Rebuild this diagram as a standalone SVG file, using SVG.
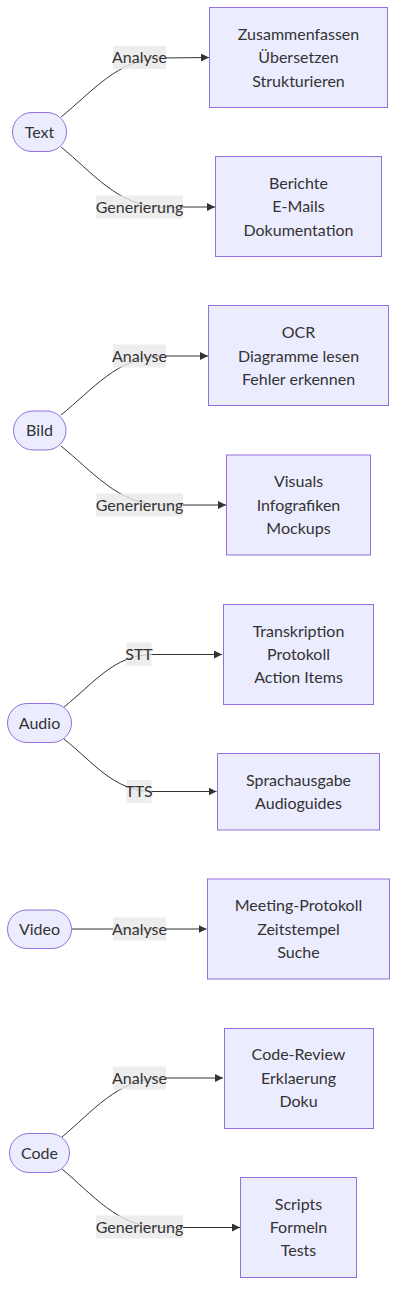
<svg xmlns="http://www.w3.org/2000/svg" width="406" height="1310" viewBox="0 0 406 1310">
<defs>
<style>
.node rect{fill:#ECECFF;stroke:#9370DB;stroke-width:1px}
text{font-family:Lato,"Liberation Sans",sans-serif;font-size:16px;fill:#333;text-anchor:middle;dominant-baseline:central;transform:translateY(-1px)}
.lbl rect{fill:#e8e8e8;fill-opacity:0.8;stroke:none}
.edge{fill:none;stroke:#333;stroke-width:1px;marker-end:url(#arr)}
</style>
<marker id="arr" viewBox="0 0 10 10" refX="10" refY="5" markerWidth="8" markerHeight="8" markerUnits="userSpaceOnUse" orient="auto">
<path d="M0,0 L10,5 L0,10 z" fill="#333"/>
</marker>
</defs>
<rect width="406" height="1310" fill="#fff"/>
<g id="connectors">
<path class="edge" d="M61,117 C92,92 118,59 160,58 L209,57.5"/>
<path class="edge" d="M61,147 C92,172 118,206 160,207 L215,207"/>
<path class="edge" d="M61,415 C92,390 118,357 160,356 L208,356"/>
<path class="edge" d="M61,446 C92,471 118,504 160,505 L226,505"/>
<path class="edge" d="M64,707 C94,683 114,655 152,654.5 L222,654.5"/>
<path class="edge" d="M64,739 C94,763 114,791 152,791.5 L216.5,791.5"/>
<path class="edge" d="M72,929 L206.5,929"/>
<path class="edge" d="M62,1137 C92,1112 118,1079 160,1078 L223,1078"/>
<path class="edge" d="M62,1169 C92,1194 118,1227 160,1227.5 L240,1227.5"/>
</g>
<g id="edge-labels">
<g class="lbl"><rect x="113" y="46" width="53" height="23"/><text x="139.5" y="57.5">Analyse</text></g>
<g class="lbl"><rect x="96" y="195.5" width="87" height="23"/><text x="139.5" y="207">Generierung</text></g>
<g class="lbl"><rect x="113" y="344.5" width="53" height="23"/><text x="139.5" y="356">Analyse</text></g>
<g class="lbl"><rect x="96" y="493.5" width="87" height="23"/><text x="139.5" y="505">Generierung</text></g>
<g class="lbl"><rect x="126.5" y="642.5" width="25" height="23"/><text x="139" y="654">STT</text></g>
<g class="lbl"><rect x="126.5" y="780" width="25" height="23"/><text x="139" y="791.5">TTS</text></g>
<g class="lbl"><rect x="113" y="917.5" width="53" height="23"/><text x="139.5" y="929">Analyse</text></g>
<g class="lbl"><rect x="113" y="1066.5" width="53" height="23"/><text x="139.5" y="1078">Analyse</text></g>
<g class="lbl"><rect x="96" y="1215.5" width="87" height="23"/><text x="139.5" y="1227">Generierung</text></g>
</g>
<g id="text" class="node"><rect x="12.5" y="112.5" width="54" height="39" rx="19.5" ry="19.5"/><text x="39.5" y="132">Text</text></g>
<g id="text-analyse" class="node"><rect x="209.5" y="7.5" width="178" height="100"/><text x="298.5" y="34">Zusammenfassen</text><text x="298.5" y="57.5">Übersetzen</text><text x="298.5" y="81">Strukturieren</text></g>
<g id="text-gen" class="node"><rect x="215.5" y="156.5" width="166" height="100"/><text x="298.5" y="183">Berichte</text><text x="298.5" y="206.5">E-Mails</text><text x="298.5" y="230">Dokumentation</text></g>
<g id="bild" class="node"><rect x="13.5" y="411" width="52.5" height="39" rx="19.5" ry="19.5"/><text x="39.5" y="430.5">Bild</text></g>
<g id="bild-analyse" class="node"><rect x="208.5" y="305.5" width="180" height="100"/><text x="298.5" y="332.5">OCR</text><text x="298.5" y="356">Diagramme lesen</text><text x="298.5" y="379.5">Fehler erkennen</text></g>
<g id="bild-gen" class="node"><rect x="226.5" y="455" width="144" height="100"/><text x="298.5" y="481.5">Visuals</text><text x="298.5" y="505">Infografiken</text><text x="298.5" y="528.5">Mockups</text></g>
<g id="audio" class="node"><rect x="7.5" y="703.5" width="64" height="39" rx="19.5" ry="19.5"/><text x="39.5" y="723">Audio</text></g>
<g id="audio-stt" class="node"><rect x="223.5" y="604.5" width="150" height="100"/><text x="298.5" y="631">Transkription</text><text x="298.5" y="654">Protokoll</text><text x="298.5" y="677.5">Action Items</text></g>
<g id="audio-tts" class="node"><rect x="217.5" y="753.5" width="162" height="76.5"/><text x="298.5" y="780">Sprachausgabe</text><text x="298.5" y="803.5">Audioguides</text></g>
<g id="video" class="node"><rect x="7.5" y="910" width="64" height="38.5" rx="19.25" ry="19.25"/><text x="39.5" y="929">Video</text></g>
<g id="video-analyse" class="node"><rect x="207.5" y="879" width="182" height="100"/><text x="298.5" y="905.5">Meeting-Protokoll</text><text x="298.5" y="929">Zeitstempel</text><text x="298.5" y="952.5">Suche</text></g>
<g id="code" class="node"><rect x="9.5" y="1133.5" width="60" height="39" rx="19.5" ry="19.5"/><text x="39.5" y="1153">Code</text></g>
<g id="code-analyse" class="node"><rect x="224.5" y="1028.5" width="149" height="100"/><text x="298.5" y="1054.5">Code-Review</text><text x="298.5" y="1078">Erklaerung</text><text x="298.5" y="1101.5">Doku</text></g>
<g id="code-gen" class="node"><rect x="240.5" y="1177.5" width="116" height="100"/><text x="298.5" y="1204">Scripts</text><text x="298.5" y="1227">Formeln</text><text x="298.5" y="1250.5">Tests</text></g>
</svg>
